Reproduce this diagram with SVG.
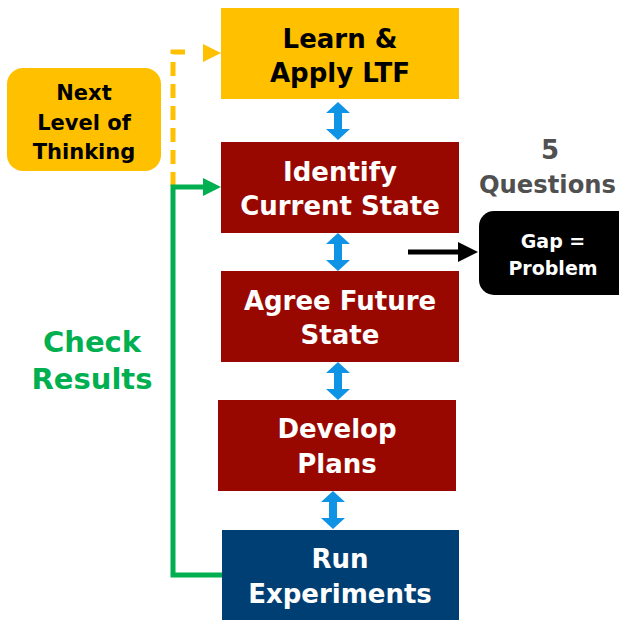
<svg xmlns="http://www.w3.org/2000/svg" width="619" height="620" viewBox="0 0 619 620">
<style>
.t{font-family:"DejaVu Sans","Liberation Sans",sans-serif;font-weight:bold;text-anchor:middle}
.w{fill:#fff;font-size:26px}
.k{fill:#000}
.red{fill:#990800}
.ba{fill:#0F94E5}
</style>
<defs>
<path id="dbl" d="M0,-19 L12,-8 L4,-8 L4,8 L12,8 L0,19 L-12,8 L-4,8 L-4,-8 L-12,-8 Z"/>
</defs>
<rect width="619" height="620" fill="#fff"/>
<g id="connectors">
<path d="M173,186 V52 H190" fill="none" stroke="#FFC000" stroke-width="5" stroke-dasharray="14,8"/>
<polygon points="203,44 221,53 203,62" fill="#FFC000"/>
<path d="M222,575 H173 V187 H206" fill="none" stroke="#00B050" stroke-width="5"/>
<polygon points="203,178 221,187 203,196" fill="#00B050"/>
<path d="M408,252 H462" stroke="#000" stroke-width="5"/>
<polygon points="458,242 478,252 458,262" fill="#000"/>
<use href="#dbl" class="ba" x="338" y="121"/>
<use href="#dbl" class="ba" x="338" y="252"/>
<use href="#dbl" class="ba" x="338" y="381"/>
<use href="#dbl" class="ba" x="333" y="510"/>
</g>
<g id="learn">
<rect x="221" y="8" width="238" height="91" fill="#FFC000"/>
<text class="t k" x="340" y="48" font-size="26">Learn &amp;</text>
<text class="t k" x="340" y="82" font-size="26">Apply LTF</text>
</g>
<g id="identify">
<rect class="red" x="221" y="142" width="238" height="91"/>
<text class="t w" x="340" y="181">Identify</text>
<text class="t w" x="340" y="215">Current State</text>
</g>
<g id="agree">
<rect class="red" x="221" y="271" width="238" height="91"/>
<text class="t w" x="340" y="310">Agree Future</text>
<text class="t w" x="340" y="344">State</text>
</g>
<g id="develop">
<rect class="red" x="218" y="400" width="238" height="91"/>
<text class="t w" x="337" y="438">Develop</text>
<text class="t w" x="337" y="473">Plans</text>
</g>
<g id="run">
<rect x="222" y="530" width="237" height="90" fill="#003F73"/>
<text class="t w" x="340" y="568">Run</text>
<text class="t w" x="340" y="603">Experiments</text>
</g>
<g id="next">
<rect x="7" y="68" width="154" height="103" rx="16" fill="#FFC000"/>
<text class="t k" x="84" y="100" font-size="21">Next</text>
<text class="t k" x="84" y="130" font-size="21">Level of</text>
<text class="t k" x="84" y="159" font-size="21">Thinking</text>
</g>
<g id="check">
<text class="t" x="92" y="352" font-size="29" fill="#00B050">Check</text>
<text class="t" x="92" y="389" font-size="29" fill="#00B050">Results</text>
</g>
<g id="questions">
<text class="t" x="550" y="159" font-size="26" fill="#505050">5</text>
<text class="t" x="479" y="193" font-size="25" fill="#505050" style="text-anchor:start" textLength="137" lengthAdjust="spacingAndGlyphs">Questions</text>
</g>
<g id="gap">
<rect x="479" y="211" width="160" height="84" rx="15" fill="#000"/>
<text class="t" x="553" y="248" font-size="19" fill="#fff">Gap =</text>
<text class="t" x="553" y="275" font-size="19" fill="#fff">Problem</text>
</g>
</svg>
